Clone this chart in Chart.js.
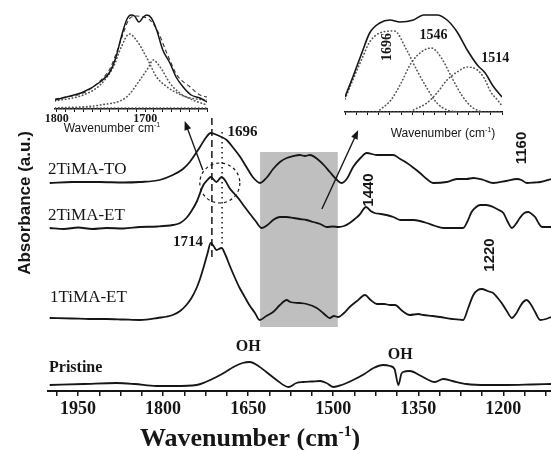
<!DOCTYPE html>
<html>
<head>
<meta charset="utf-8">
<script src="https://cdn.jsdelivr.net/npm/chart.js@4.4.1/dist/chart.umd.min.js"></script>
<style>
  html, body { margin: 0; padding: 0; background: #fff; }
  #wrap { position: relative; width: 551px; height: 450px; }
  #wrap canvas { position: absolute; }
</style>
</head>
<body>
<div id="wrap">
  <canvas id="main" width="551" height="450" style="left:0;top:0;width:551px;height:450px"></canvas>
  <canvas id="insetL" width="180" height="140" style="left:40px;top:0;width:180px;height:140px"></canvas>
  <canvas id="insetR" width="190" height="145" style="left:330px;top:0;width:190px;height:145px"></canvas>
</div>
<script>
// main spectra: [wavenumber cm-1, absorbance (offset for display)]
const spectrumTO = [[2000,2.08],[1960,2.09],[1912,2.09],[1870,2.085],[1841,2.09],[1806,2.11],[1783,2.16],[1765,2.22],[1753,2.29],[1735,2.44],[1725,2.53],[1716,2.58],[1705,2.56],[1688,2.51],[1676,2.43],[1664,2.34],[1652,2.23],[1642,2.14],[1629,2.08],[1618,2.13],[1606,2.22],[1594,2.29],[1582,2.33],[1570,2.35],[1559,2.36],[1550,2.35],[1541,2.36],[1526,2.31],[1515,2.25],[1506,2.19],[1495,2.12],[1485,2.08],[1475,2.13],[1465,2.24],[1452,2.33],[1441,2.38],[1423,2.36],[1408,2.36],[1394,2.36],[1382,2.32],[1370,2.28],[1358,2.23],[1347,2.18],[1335,2.12],[1324,2.08],[1300,2.09],[1282,2.12],[1265,2.12],[1253,2.13],[1235,2.11],[1218,2.08],[1195,2.10],[1176,2.12],[1168,2.11],[1159,2.08],[1145,2.085],[1135,2.09],[1116,2.12]];
const spectrumET2 = [[2000,1.63],[1975,1.62],[1950,1.635],[1925,1.62],[1900,1.63],[1870,1.625],[1841,1.64],[1810,1.645],[1783,1.66],[1770,1.68],[1759,1.73],[1750,1.80],[1741,1.89],[1729,2.06],[1722,2.11],[1716,2.14],[1706,2.09],[1697,2.14],[1690,2.10],[1683,2.03],[1674,1.97],[1665,1.91],[1656,1.84],[1648,1.78],[1637,1.70],[1626,1.63],[1616,1.66],[1606,1.71],[1594,1.74],[1582,1.74],[1570,1.73],[1559,1.72],[1547,1.71],[1535,1.69],[1523,1.67],[1512,1.64],[1500,1.645],[1491,1.64],[1481,1.65],[1471,1.68],[1462,1.72],[1454,1.76],[1442,1.84],[1434,1.80],[1427,1.78],[1416,1.77],[1406,1.76],[1394,1.74],[1382,1.71],[1370,1.71],[1359,1.71],[1347,1.70],[1335,1.68],[1320,1.65],[1306,1.63],[1290,1.63],[1271,1.63],[1263,1.70],[1256,1.79],[1248,1.84],[1241,1.86],[1230,1.86],[1218,1.84],[1208,1.81],[1200,1.78],[1193,1.70],[1185,1.63],[1178,1.67],[1171,1.73],[1163,1.78],[1156,1.79],[1150,1.77],[1144,1.74],[1138,1.68],[1132,1.64],[1116,1.64]];
const spectrumET1 = [[2000,0.73],[1960,0.725],[1930,0.72],[1900,0.72],[1870,0.715],[1841,0.71],[1810,0.73],[1783,0.76],[1770,0.80],[1759,0.86],[1750,0.93],[1741,1.03],[1735,1.12],[1729,1.23],[1722,1.37],[1716,1.48],[1711,1.45],[1706,1.41],[1697,1.43],[1690,1.36],[1683,1.26],[1674,1.14],[1665,1.03],[1656,0.94],[1648,0.86],[1638,0.78],[1630,0.71],[1618,0.75],[1606,0.79],[1594,0.86],[1582,0.91],[1576,0.89],[1560,0.88],[1547,0.87],[1529,0.83],[1518,0.78],[1512,0.75],[1506,0.73],[1499,0.75],[1491,0.74],[1481,0.78],[1471,0.84],[1458,0.90],[1444,0.96],[1434,0.91],[1423,0.87],[1410,0.87],[1400,0.86],[1391,0.86],[1378,0.80],[1365,0.76],[1350,0.77],[1341,0.76],[1325,0.75],[1312,0.74],[1290,0.72],[1271,0.71],[1262,0.83],[1253,0.96],[1245,1.01],[1238,1.02],[1228,1.00],[1218,0.98],[1210,0.93],[1203,0.88],[1194,0.80],[1185,0.73],[1178,0.77],[1171,0.84],[1165,0.89],[1159,0.91],[1152,0.87],[1144,0.79],[1135,0.71],[1125,0.72],[1116,0.74]];
const spectrumPristine = [[2000,0.06],[1940,0.07],[1882,0.08],[1850,0.07],[1812,0.05],[1780,0.05],[1741,0.06],[1725,0.09],[1706,0.14],[1690,0.19],[1676,0.24],[1660,0.28],[1647,0.29],[1632,0.25],[1618,0.19],[1600,0.11],[1579,0.04],[1565,0.08],[1553,0.09],[1538,0.095],[1523,0.10],[1512,0.08],[1500,0.04],[1485,0.06],[1465,0.11],[1445,0.17],[1429,0.23],[1412,0.26],[1400,0.25],[1392,0.22],[1385,0.06],[1380,0.17],[1377,0.19],[1365,0.20],[1345,0.15],[1321,0.09],[1306,0.12],[1290,0.10],[1265,0.07],[1230,0.06],[1194,0.06],[1150,0.065],[1116,0.07]];

const sampleNames = ['2TiMA-TO', '2TiMA-ET', '1TiMA-ET', 'Pristine'];
const mainTicks = [1950, 1800, 1650, 1500, 1350, 1200];
const highlightBand = [1629, 1492];
const peakMarks = [1714, 1696];

// inset 1 (C=O region, 2TiMA-ET)
const inset1Measured = [[1802,0.09],[1789,0.12],[1770,0.17],[1751,0.27],[1740,0.37],[1733,0.52],[1727,0.72],[1721,0.89],[1716,0.94],[1712,0.93],[1707,0.87],[1702,0.92],[1698,0.94],[1693,0.91],[1687,0.79],[1680,0.59],[1672,0.46],[1665,0.32],[1657,0.22],[1648,0.14],[1638,0.11],[1630,0.07]];
const inset1Fit = [[1802,0.10],[1789,0.12],[1770,0.16],[1751,0.28],[1740,0.40],[1733,0.55],[1727,0.70],[1718,0.90],[1710,0.93],[1702,0.92],[1696,0.90],[1687,0.80],[1675,0.55],[1664,0.34],[1649,0.22],[1638,0.14],[1630,0.12]];
const inset1Band1 = [[1802,0.08],[1770,0.14],[1751,0.24],[1736,0.42],[1727,0.62],[1718,0.75],[1710,0.69],[1698,0.51],[1687,0.32],[1675,0.22],[1664,0.16],[1649,0.11],[1630,0.09]];
const inset1Band2 = [[1802,0.01],[1751,0.04],[1721,0.12],[1706,0.29],[1696,0.42],[1691,0.49],[1683,0.42],[1672,0.26],[1661,0.16],[1646,0.09],[1630,0.04]];
const inset1Base = [[1802,0.01],[1630,0.01]];

// inset 2 (gray band, 2TiMA-TO)
const inset2Measured = [[1622,0.15],[1615,0.35],[1607,0.59],[1600,0.79],[1591,0.89],[1582,0.92],[1573,0.90],[1561,0.92],[1552,0.97],[1540,0.97],[1531,0.92],[1522,0.80],[1513,0.62],[1504,0.47],[1497,0.39],[1490,0.26],[1482,0.15]];
const inset2Band1 = [[1622,0.13],[1615,0.32],[1607,0.53],[1600,0.70],[1591,0.79],[1578,0.81],[1567,0.62],[1558,0.42],[1549,0.24],[1540,0.09],[1531,0.02],[1520,0.0]];
const inset2Band2 = [[1591,0.02],[1581,0.12],[1572,0.29],[1563,0.49],[1554,0.60],[1545,0.64],[1536,0.54],[1527,0.35],[1518,0.17],[1509,0.05],[1500,0.0]];
const inset2Band3 = [[1561,0.02],[1549,0.09],[1540,0.19],[1531,0.32],[1522,0.40],[1513,0.45],[1504,0.42],[1498,0.34],[1492,0.20],[1486,0.12],[1482,0.06]];
const inset2Base = [[1622,0.0],[1482,0.0]];
const inset2Peaks = ['1696', '1546', '1514'];

const INK = '#161616';
const SERIF = '"Liberation Serif", "Times New Roman", serif';
const SANS = '"Liberation Sans", Arial, sans-serif';

const pts = (arr) => arr.map(([x, y]) => ({ x, y }));

function solid(data, width) {
  return { data: pts(data), borderColor: INK, borderWidth: width, pointRadius: 0, cubicInterpolationMode: 'monotone', fill: false };
}
function dotted(data) {
  return { data: pts(data), borderColor: '#555', borderWidth: 1.6, borderDash: [0.5, 3], borderCapStyle: 'round', pointRadius: 0, cubicInterpolationMode: 'monotone', fill: false };
}

function text(ctx, s, x, y, font, align = 'center', rot = 0) {
  ctx.save();
  ctx.translate(x, y);
  if (rot) ctx.rotate(rot);
  ctx.font = font;
  ctx.fillStyle = INK;
  ctx.textAlign = align;
  ctx.textBaseline = 'middle';
  ctx.fillText(s, 0, 0);
  ctx.restore();
}

// "Wavenumber (cm" + superscript -1 + ")"
function supTitle(ctx, before, after, cx, cy, size, font) {
  ctx.save();
  ctx.fillStyle = INK;
  ctx.textBaseline = 'alphabetic';
  ctx.font = font(size);
  const w1 = ctx.measureText(before).width;
  const w3 = ctx.measureText(after).width;
  ctx.font = font(size * 0.6);
  const w2 = ctx.measureText('-1').width;
  let x = cx - (w1 + w2 + w3) / 2;
  const base = cy + size * 0.35;
  ctx.font = font(size);
  ctx.fillText(before, x, base);
  x += w1;
  ctx.font = font(size * 0.6);
  ctx.fillText('-1', x, base - size * 0.4);
  x += w2;
  ctx.font = font(size);
  ctx.fillText(after, x, base);
  ctx.restore();
}

function arrow(ctx, x0, y0, x1, y1) {
  const a = Math.atan2(y1 - y0, x1 - x0);
  ctx.save();
  ctx.strokeStyle = INK;
  ctx.fillStyle = INK;
  ctx.lineWidth = 1.4;
  ctx.beginPath();
  ctx.moveTo(x0, y0);
  ctx.lineTo(x1 - 6 * Math.cos(a), y1 - 6 * Math.sin(a));
  ctx.stroke();
  ctx.beginPath();
  ctx.moveTo(x1, y1);
  ctx.lineTo(x1 - 9 * Math.cos(a) + 3.5 * Math.sin(a), y1 - 9 * Math.sin(a) - 3.5 * Math.cos(a));
  ctx.lineTo(x1 - 9 * Math.cos(a) - 3.5 * Math.sin(a), y1 - 9 * Math.sin(a) + 3.5 * Math.cos(a));
  ctx.closePath();
  ctx.fill();
  ctx.restore();
}

const mainDecor = {
  id: 'mainDecor',
  beforeDatasetsDraw(chart) {
    const { ctx, scales: { x, y } } = chart;
    const l = x.getPixelForValue(highlightBand[0]);
    const r = x.getPixelForValue(highlightBand[1]);
    const t = y.getPixelForValue(2.39);
    const b = y.getPixelForValue(0.64);
    ctx.save();
    ctx.fillStyle = '#bfbfbf';
    ctx.fillRect(l, t, r - l, b - t);
    ctx.restore();
  },
  afterDatasetsDraw(chart) {
    const { ctx, scales: { x, y }, chartArea } = chart;
    ctx.save();
    // peak guide lines
    ctx.strokeStyle = INK;
    ctx.lineWidth = 1.5;
    ctx.setLineDash([7, 4]);
    ctx.beginPath();
    ctx.moveTo(x.getPixelForValue(peakMarks[0]), y.getPixelForValue(2.73));
    ctx.lineTo(x.getPixelForValue(peakMarks[0]), y.getPixelForValue(1.31));
    ctx.stroke();
    ctx.setLineDash([1.5, 3.5]);
    ctx.beginPath();
    ctx.moveTo(x.getPixelForValue(peakMarks[1]), y.getPixelForValue(2.59));
    ctx.lineTo(x.getPixelForValue(peakMarks[1]), y.getPixelForValue(1.46));
    ctx.stroke();
    // dashed circle round the ET doublet
    ctx.lineWidth = 1.2;
    ctx.setLineDash([3, 3]);
    ctx.beginPath();
    ctx.arc(x.getPixelForValue(1700), y.getPixelForValue(2.08), 20, 0, Math.PI * 2);
    ctx.stroke();
    ctx.restore();

    arrow(ctx, x.getPixelForValue(1730), y.getPixelForValue(2.21), x.getPixelForValue(1762), y.getPixelForValue(2.70));
    arrow(ctx, x.getPixelForValue(1520), y.getPixelForValue(1.82), x.getPixelForValue(1456), y.getPixelForValue(2.61));

    const serif = (s, w = '') => `${w} ${s}px ${SERIF}`;
    text(ctx, sampleNames[0], chartArea.left, y.getPixelForValue(2.21), serif(17), 'left');
    text(ctx, sampleNames[1], chartArea.left, y.getPixelForValue(1.75), serif(17), 'left');
    text(ctx, sampleNames[2], chartArea.left + 2, y.getPixelForValue(0.93), serif(17), 'left');
    text(ctx, sampleNames[3], chartArea.left + 1, y.getPixelForValue(0.23), serif(16, 'bold'), 'left');

    text(ctx, '1696', x.getPixelForValue(1660), y.getPixelForValue(2.59), serif(15, 'bold'));
    text(ctx, '1714', x.getPixelForValue(1756), y.getPixelForValue(1.49), serif(15, 'bold'));
    text(ctx, 'OH', x.getPixelForValue(1650), y.getPixelForValue(0.44), serif(16, 'bold'));
    text(ctx, 'OH', x.getPixelForValue(1382), y.getPixelForValue(0.36), serif(16, 'bold'));

    const sans = `bold 15px ${SANS}`;
    text(ctx, '1440', x.getPixelForValue(1438), y.getPixelForValue(2.01), sans, 'center', -Math.PI / 2);
    text(ctx, '1220', x.getPixelForValue(1224), y.getPixelForValue(1.36), sans, 'center', -Math.PI / 2);
    text(ctx, '1160', x.getPixelForValue(1167), y.getPixelForValue(2.43), sans, 'center', -Math.PI / 2);

    // axis titles
    text(ctx, 'Absorbance (a.u.)', 25, 203, `bold 17px ${SANS}`, 'center', -Math.PI / 2);
    supTitle(ctx, 'Wavenumber (cm', ')', 250, 437, 26, (s) => `bold ${s}px ${SERIF}`);
  }
};

new Chart(document.getElementById('main'), {
  type: 'line',
  data: {
    datasets: [
      solid(spectrumTO, 1.8),
      solid(spectrumET2, 1.8),
      solid(spectrumET1, 1.8),
      solid(spectrumPristine, 1.8),
    ],
  },
  options: {
    responsive: false,
    animation: false,
    events: [],
    layout: { padding: { left: 48, right: 0, top: 0, bottom: 0 } },
    plugins: { legend: { display: false }, tooltip: { enabled: false } },
    scales: {
      x: {
        type: 'linear',
        reverse: true,
        min: 1116,
        max: 2003,
        afterFit: (s) => { s.height = 59; },
        border: { display: true, color: INK, width: 2 },
        grid: { drawOnChartArea: false, drawTicks: true, tickLength: 5, color: INK, lineWidth: 1.5 },
        ticks: {
          stepSize: 37.5,
          includeBounds: false,
          autoSkip: false,
          maxRotation: 0,
          padding: 3,
          color: INK,
          font: { family: SERIF, size: 18, weight: 'bold' },
          callback: (v) => (mainTicks.includes(v) ? String(v) : ''),
        },
      },
      y: { display: false, min: 0, max: 3.91 },
    },
  },
  plugins: [mainDecor],
});

function insetChart(id, datasets, range, yMax, padRight, axisH, labelEvery, decor) {
  return new Chart(document.getElementById(id), {
    type: 'line',
    data: { datasets },
    options: {
      responsive: false,
      animation: false,
      events: [],
      layout: { padding: { left: 15, right: padRight, top: 0, bottom: 0 } },
      plugins: { legend: { display: false }, tooltip: { enabled: false } },
      scales: {
        x: {
          type: 'linear',
          reverse: true,
          min: range[0],
          max: range[1],
          afterFit: (s) => { s.height = axisH; },
          border: { display: true, color: INK, width: 1.4 },
          grid: { drawOnChartArea: false, tickLength: 3, color: INK, lineWidth: 1 },
          ticks: {
            stepSize: 10,
            includeBounds: false,
            autoSkip: false,
            maxRotation: 0,
            padding: 0,
            color: INK,
            font: { family: SERIF, size: 12, weight: 'bold' },
            callback: (v) => (v % labelEvery === 0 ? String(v) : ''),
          },
        },
        y: { display: false, min: 0, max: yMax },
      },
    },
    plugins: [decor],
  });
}

insetChart('insetL', [
  solid(inset1Measured, 1.5),
  { ...solid(inset1Fit, 1.1), borderDash: [4, 3], borderColor: '#333' },
  dotted(inset1Band1),
  dotted(inset1Band2),
  dotted(inset1Base),
], [1630, 1802], 1.09, 13, 31, 100, {
  id: 'insetLDecor',
  afterDatasetsDraw(chart) {
    supTitle(chart.ctx, 'Wavenumber cm', '', 72, 128, 12, (s) => `${s}px ${SANS}`);
  },
});

insetChart('insetR', [
  solid(inset2Measured, 1.6),
  dotted(inset2Band1),
  dotted(inset2Band2),
  dotted(inset2Band3),
  dotted(inset2Base),
], [1482, 1622], 1.12, 18, 33, 50, {
  id: 'insetRDecor',
  afterDatasetsDraw(chart) {
    const { ctx, scales: { x, y } } = chart;
    const f = `bold 14px ${SERIF}`;
    text(ctx, inset2Peaks[0], x.getPixelForValue(1584), y.getPixelForValue(0.65), f, 'center', -Math.PI / 2);
    text(ctx, inset2Peaks[1], x.getPixelForValue(1543), y.getPixelForValue(0.77), f);
    text(ctx, inset2Peaks[2], x.getPixelForValue(1488), y.getPixelForValue(0.54), f);
    supTitle(ctx, 'Wavenumber (cm', ')', 113, 133, 12, (s) => `${s}px ${SANS}`);
  },
});
</script>
</body>
</html>
